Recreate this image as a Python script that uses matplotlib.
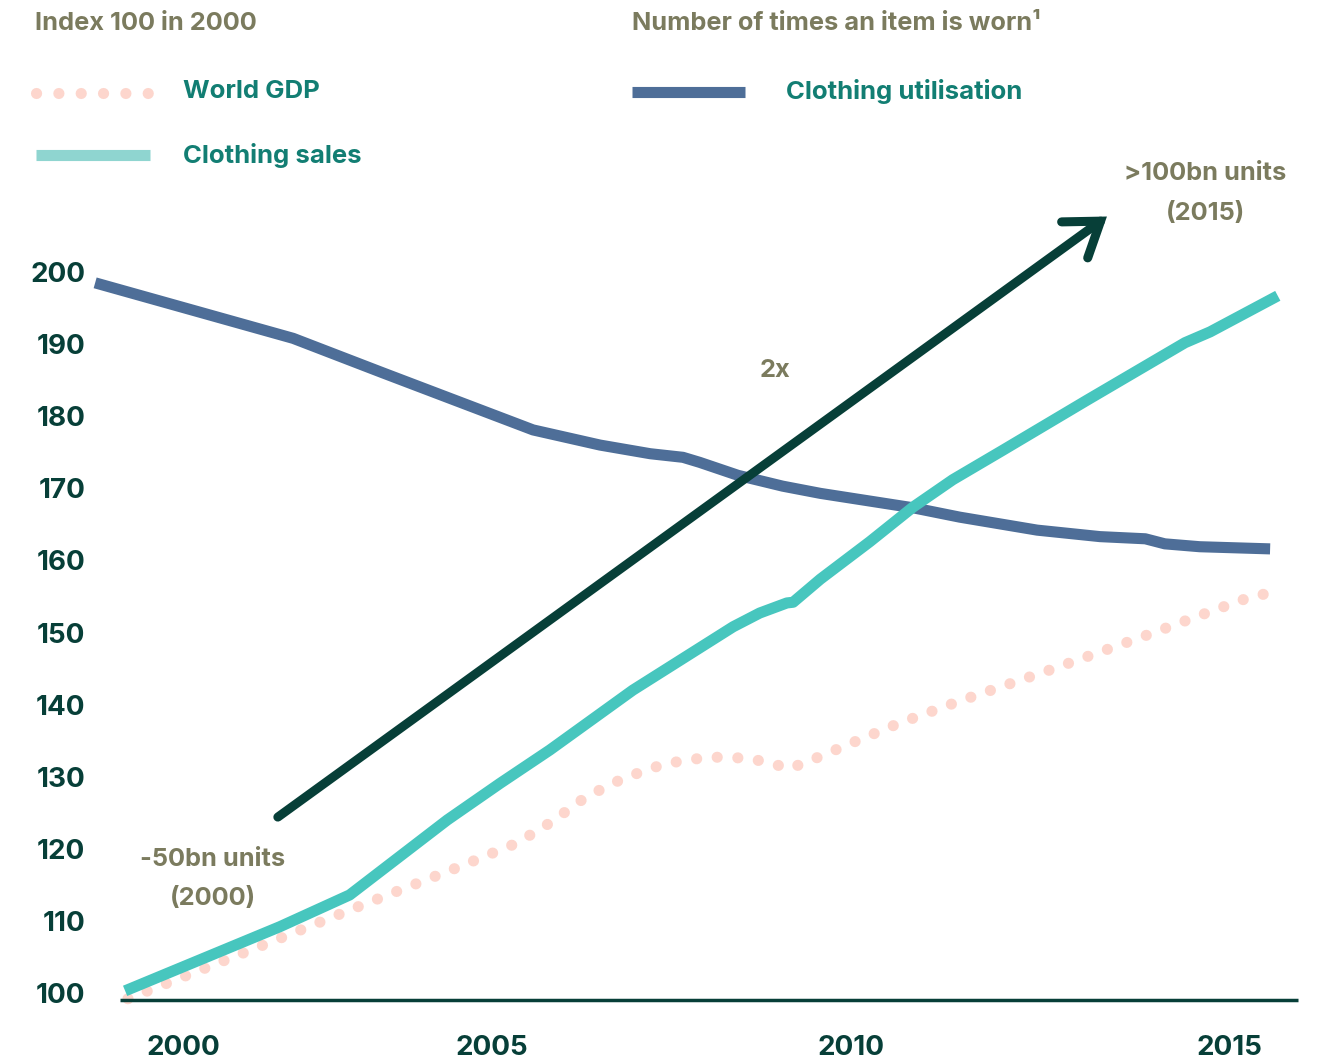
import matplotlib.pyplot as plt
from matplotlib.lines import Line2D

plt.rcParams['font.family'] = ['Inter', 'DejaVu Sans']

# --- data ---
util_x = [1998.74, 2001.58, 2002.87, 2005.02, 2005.98, 2006.70, 2007.17, 2007.41, 2007.96,
          2008.60, 2009.14, 2010.47, 2011.14, 2012.25, 2013.15, 2013.80, 2014.08, 2014.58,
          2015.59]
util_y = [198.5, 190.8, 186.0, 178.1, 176.0, 174.8, 174.3, 173.6, 171.8,
          170.3, 169.3, 167.3, 166.0, 164.2, 163.3, 163.0, 162.3, 161.9,
          161.6]

sales_x = [1999.17, 2001.39, 2002.39, 2003.79, 2004.55, 2005.26, 2006.45, 2007.89, 2008.27,
           2008.66, 2008.75, 2009.14, 2009.85, 2010.47, 2011.04, 2011.76, 2012.96, 2014.37,
           2014.73, 2015.70]
sales_y = [100.3, 109.2, 113.6, 124.0, 129.1, 133.7, 142.0, 150.8, 152.7,
           154.1, 154.2, 157.4, 162.6, 167.4, 171.2, 175.3, 182.2, 190.2,
           191.7, 196.7]

gdp_x = [1999.21, 2001.19, 2002.57, 2003.96, 2004.79, 2005.28, 2005.78, 2006.32, 2006.91,
         2007.51, 2007.83, 2008.13, 2008.43, 2008.69, 2009.01, 2009.67, 2010.24, 2011.14,
         2012.43, 2013.70, 2014.76, 2015.30, 2015.59]
gdp_y = [99.2, 106.8, 112.2, 117.5, 120.8, 123.7, 127.2, 129.8, 131.8,
         132.7, 132.7, 132.5, 131.9, 131.1, 132.3, 135.0, 137.3, 140.5,
         144.8, 149.2, 153.0, 154.9, 155.5]

y_ticks = [100, 110, 120, 130, 140, 150, 160, 170, 180, 190, 200]
x_tick_pos = [2000, 2004.43, 2009.58, 2015]
x_tick_labels = ['2000', '2005', '2010', '2015']

# colours
C_UTIL = '#4E6E98'
C_SALES = '#47C6BE'
C_SALES_LEG = '#8FD5D0'
C_GDP = '#FDD6CD'
C_OLIVE = '#7B7B5E'
C_TEAL = '#127E73'
C_DARK = '#073F38'

W, H = 1323, 1061
fig = plt.figure(figsize=(W / 100, H / 100), dpi=100)
ax = fig.add_axes([95 / W, 61 / H, 1203 / W, 800 / H])
ax.set_xlim(1998.738, 2015.99)
ax.set_ylim(99.03, 209.99)
for s in ax.spines.values():
    s.set_visible(False)

ax.plot(util_x, util_y, color=C_UTIL, lw=8, solid_capstyle='butt', clip_on=False, zorder=3)
ax.plot(gdp_x, gdp_y, color=C_GDP, lw=8, linestyle=(0, (0.01, 1.85)),
        dash_capstyle='round', clip_on=False, zorder=2)
ax.plot(sales_x, sales_y, color=C_SALES, lw=8, solid_capstyle='butt', clip_on=False, zorder=4)

# baseline
ax.hlines(99.03, 2000 + (120 - 183) / 69.73, 2015.99, color=C_DARK, lw=2.5, clip_on=False)

# big arrow
ax.annotate('', xy=(2013.25, 207.7), xytext=(2001.36, 124.4),
            arrowprops=dict(arrowstyle='->,head_length=1.15,head_width=0.8',
                            color=C_DARK, lw=6.5, mutation_scale=20,
                            shrinkA=0, shrinkB=0, joinstyle='miter'),
            annotation_clip=False, zorder=5)

# ticks
ax.set_yticks(y_ticks)
ax.set_xticks(x_tick_pos, x_tick_labels)
ax.tick_params(length=0, labelsize=20, labelcolor=C_DARK)
ax.tick_params(axis='y', pad=7)
ax.tick_params(axis='x', pad=25)
for lab in ax.get_xticklabels() + ax.get_yticklabels():
    lab.set_fontweight('bold')

# annotations
txt = dict(color=C_OLIVE, fontsize=18.3, fontweight='bold', ha='center', va='center',
           linespacing=1.9)
ax.text(2008.49, 186.3, '2x', **txt)
ax.text(2000.43, 115.8, '-50bn units\n(2000)', **txt)
ax.text(2014.66, 210.9, '>100bn units\n(2015)', **txt)

# headers and legend (figure pixel positions)
def fx(px):
    return px / W

def fy(py):
    return 1 - py / H

fig.text(fx(35), fy(23), 'Index 100 in 2000', color=C_OLIVE, fontsize=18.3,
         fontweight='bold', va='center')
fig.text(fx(632), fy(23), 'Number of times an item is worn\u00b9', color=C_OLIVE,
         fontsize=18.3, fontweight='bold', va='center')

fig.add_artist(Line2D([fx(36), fx(149)], [fy(93), fy(93)], color=C_GDP, lw=8,
                      linestyle=(0, (0.01, 2.0)), dash_capstyle='round'))
fig.add_artist(Line2D([fx(36), fx(150)], [fy(155), fy(155)], color=C_SALES_LEG, lw=8,
                      solid_capstyle='butt'))
fig.add_artist(Line2D([fx(632), fx(745)], [fy(92), fy(92)], color=C_UTIL, lw=8,
                      solid_capstyle='butt'))

leg = dict(color=C_TEAL, fontsize=18.5, fontweight='bold', va='center')
fig.text(fx(183), fy(92), 'World GDP', **leg)
fig.text(fx(183), fy(156), 'Clothing sales', **leg)
fig.text(fx(786), fy(92), 'Clothing utilisation', **leg)

fig.savefig('out.png', dpi=100)
